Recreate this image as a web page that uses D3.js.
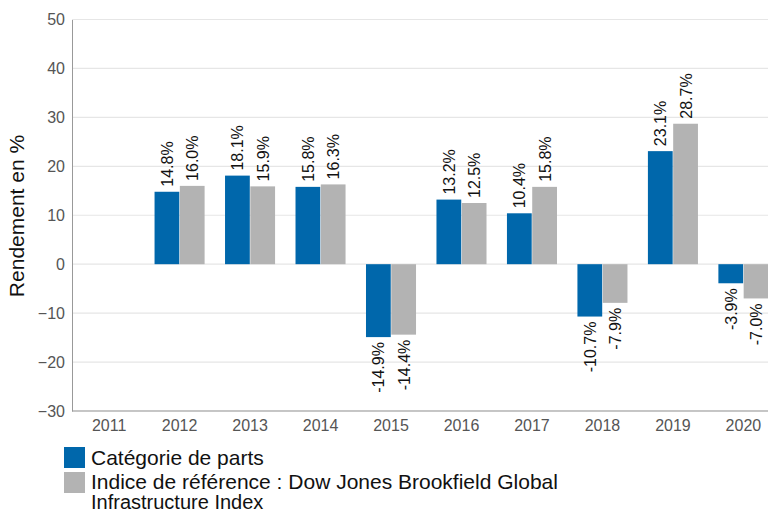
<!DOCTYPE html>
<html>
<head>
<meta charset="utf-8">
<script src="https://cdn.jsdelivr.net/npm/d3@7"></script>
<style>
body{margin:0;background:#fff;font-family:"Liberation Sans",Arial,sans-serif;}
</style>
</head>
<body>
<script>
var years=["2011","2012","2013","2014","2015","2016","2017","2018","2019","2020"];
var fundVals=[null,14.8,18.1,15.8,-14.9,13.2,10.4,-10.7,23.1,-3.9];
var indexVals=[null,16.0,15.9,16.3,-14.4,12.5,15.8,-7.9,28.7,-7.0];
var yTicks=[-30,-20,-10,0,10,20,30,40,50];
var seriesNames=["Catégorie de parts","Indice de référence : Dow Jones Brookfield Global","Infrastructure Index"];
var colors=["#0067ab","#b3b3b3"];
var FONT="Liberation Sans, Arial, sans-serif";

var svg=d3.select("body").append("svg").attr("width",768).attr("height",515)
  .attr("font-family",FONT);

var y=d3.scaleLinear().domain([-30,50]).range([411,19.5]);
var x=d3.scaleBand().domain(years).range([73.5,779]).paddingInner(0.29).paddingOuter(0.15);
var sub=d3.scaleBand().domain([0,1]).range([0,x.bandwidth()]).paddingInner(0.02);

// grid
svg.append("g").selectAll("line").data(yTicks).enter().append("line")
  .attr("x1",72).attr("x2",768)
  .attr("y1",function(d){return y(d);}).attr("y2",function(d){return y(d);})
  .attr("stroke","#e6e6e6").attr("stroke-width",1.2);

var yAxis=d3.axisLeft(y).tickValues(yTicks).tickSize(0).tickPadding(7);
var gy=svg.append("g").attr("transform","translate(72,0)").call(yAxis).attr("font-family",FONT);
gy.select(".domain").attr("stroke","#999");
gy.selectAll("text").attr("font-size",16).attr("fill","#555");

var xAxis=d3.axisBottom(x).tickSize(0).tickPadding(9);
var gx=svg.append("g").attr("transform","translate(0,411)").call(xAxis).attr("font-family",FONT);
gx.select(".domain").attr("d","M72,0H768").attr("stroke","#999");
gx.selectAll("text").attr("font-size",16).attr("fill","#555");

svg.append("text").attr("transform","translate(24,216) rotate(-90)")
  .attr("text-anchor","middle").attr("font-size",21).attr("fill","#111")
  .text("Rendement en %");

var series=[fundVals,indexVals];
series.forEach(function(vals,s){
  var data=years.map(function(yr,i){return {yr:yr,v:vals[i]};}).filter(function(d){return d.v!==null;});
  var g=svg.append("g");
  g.selectAll("rect").data(data).enter().append("rect")
    .attr("x",function(d){return x(d.yr)+sub(s);})
    .attr("width",sub.bandwidth())
    .attr("y",function(d){return y(Math.max(0,d.v));})
    .attr("height",function(d){return Math.abs(y(d.v)-y(0));})
    .attr("fill",colors[s]);
  g.selectAll("text").data(data).enter().append("text")
    .attr("transform",function(d){
      var cx=x(d.yr)+sub(s)+sub.bandwidth()/2+6;
      var cy=d.v>=0?y(d.v)-5:y(d.v)+5;
      return "translate("+cx+","+cy+") rotate(-90)";
    })
    .attr("text-anchor",function(d){return d.v>=0?"start":"end";})
    .attr("font-size",16).attr("fill","#111")
    .text(function(d){return d.v.toFixed(1)+"%";});
});

// legend
var leg=svg.append("g");
leg.append("rect").attr("x",64).attr("y",447).attr("width",21).attr("height",21).attr("fill",colors[0]);
leg.append("rect").attr("x",64).attr("y",472).attr("width",21).attr("height",21).attr("fill",colors[1]);
leg.append("text").attr("x",91).attr("y",465).attr("font-size",21).attr("fill","#111").text(seriesNames[0]);
leg.append("text").attr("x",91).attr("y",489).attr("font-size",21).attr("fill","#111").text(seriesNames[1]);
leg.append("text").attr("x",91).attr("y",509).attr("font-size",20).attr("fill","#111").text(seriesNames[2]);
</script>
</body>
</html>
